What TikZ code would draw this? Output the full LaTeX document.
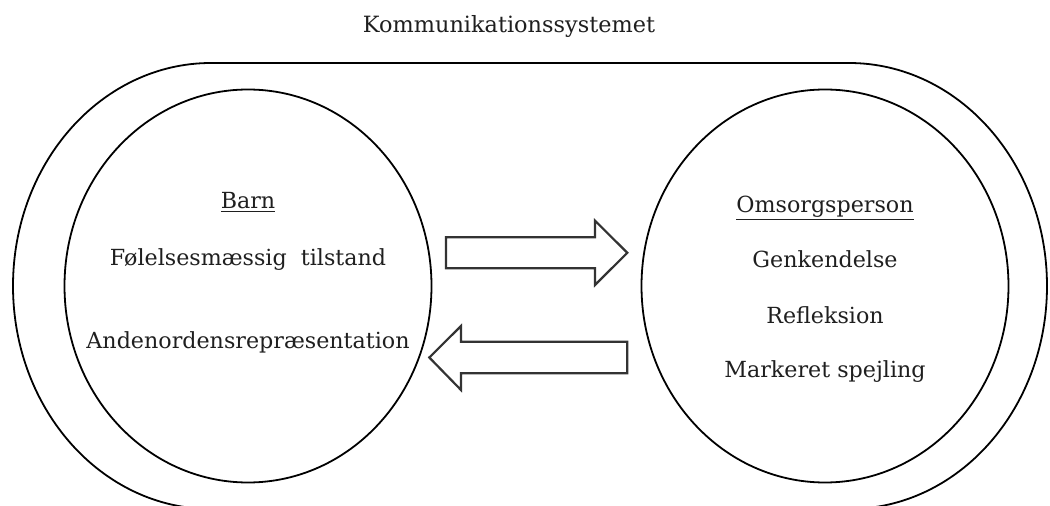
\documentclass[tikz,border=0pt]{standalone}
\usepackage{fontspec}
\setmainfont{DejaVu Serif}
\usetikzlibrary{shapes.geometric}
\begin{document}
\begin{tikzpicture}[x=1pt,y=1pt,
  lbl/.style={anchor=base,inner sep=0pt,font=\fontsize{22.2}{26}\selectfont,text=black!88},
  ring/.style={draw=black,line width=1.8pt,ellipse,minimum width=367pt,minimum height=393pt,inner sep=0pt},
  blockarrow/.style={draw=black!80,line width=2.2pt,line join=miter},
  outer/.style={draw=black,line width=1.8pt}]
\useasboundingbox (0,0) rectangle (1050,506);
% title
\node[lbl,font=\fontsize{22.4}{26}\selectfont] (title) at (509,473) {Kommunikationssystemet};
% outer system
\draw[outer] (211,443) -- (849,443) arc[start angle=90,end angle=-90,x radius=198,y radius=223]
  -- (211,-3) arc[start angle=270,end angle=90,x radius=198,y radius=223] -- cycle;
% circles
\node[ring] (barn) at (248,220) {};
\node[ring] (omsorg) at (825,220) {};
% texts left
\node[lbl] (barnT) at (248,297) {\underline{Barn}};
\node[lbl] (fol) at (248,240) {Følelsesmæssig\ \ tilstand};
\node[lbl] (anden) at (248,157) {Andenordensrepræsentation};
% texts right
\node[lbl] (omsT) at (825,293) {\underline{Omsorgsperson}};
\node[lbl] (genk) at (825,238) {Genkendelse};
\node[lbl] (refl) at (825,182) {Refleksion};
\node[lbl] (mark) at (825,128) {Markeret spejling};
% block arrows
\draw[blockarrow] (446,268.7) -- (595,268.7) -- (595,285.3) -- (627.3,253.2) -- (595,221) -- (595,237.7) -- (446,237.7) -- cycle;
\draw[blockarrow] (627.3,164.3) -- (461,164.3) -- (461,180) -- (429.3,148.5) -- (461,116) -- (461,132.7) -- (627.3,132.7) -- cycle;
\end{tikzpicture}
\end{document}
